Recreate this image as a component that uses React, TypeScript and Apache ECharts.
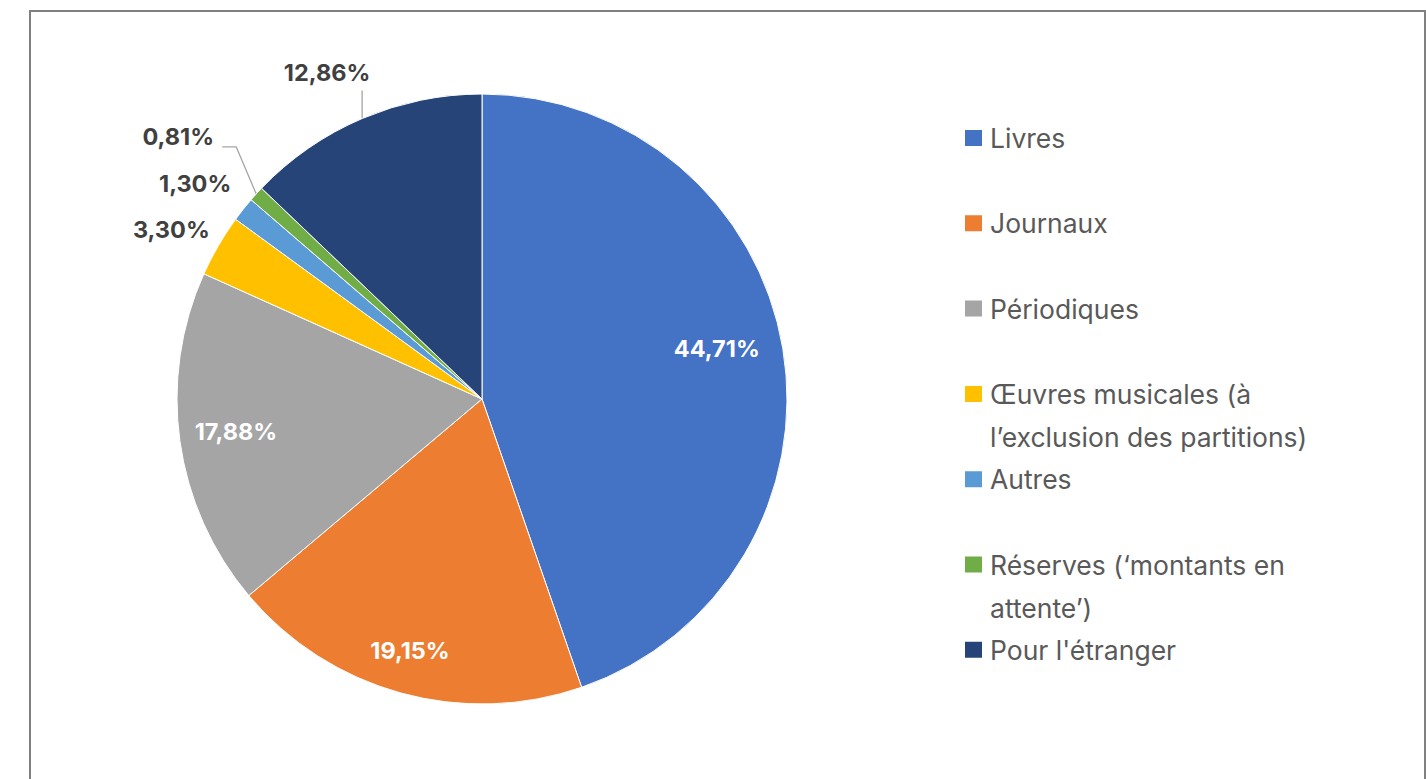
import React, { useEffect, useRef } from "react";
import * as echarts from "echarts";

const categories = [
  "Livres",
  "Journaux",
  "Périodiques",
  "Œuvres musicales (à l’exclusion des partitions)",
  "Autres",
  "Réserves (‘montants en attente’)",
  "Pour l'étranger",
];
const legendLines: string[][] = [
  ["Livres"],
  ["Journaux"],
  ["Périodiques"],
  ["Œuvres musicales (à", "l’exclusion des partitions)"],
  ["Autres"],
  ["Réserves (‘montants en", "attente’)"],
  ["Pour l'étranger"],
];
const values = [44.71, 19.15, 17.88, 3.3, 1.3, 0.81, 12.86];
const colors = ["#4472C4", "#ED7D31", "#A5A5A5", "#FFC000", "#5B9BD5", "#70AD47", "#264478"];
const insideLabel = [true, true, true, false, false, false, false];

// label centre offsets relative to the slice's outer-edge midpoint
const labelOffsets: number[][] = [
  [-66, 0],
  [9, -43],
  [56, -10],
  [-47, -16],
  [-48, -26],
  [-78, -57],
  [-35, -46],
];
const leaderLines: (number[][] | null)[] = [
  null,
  null,
  null,
  null,
  null,
  [[0, 0], [-20, -47], [-34, -47]],
  [[0, 0], [0, -28]],
];

const fmt = (v: number) => v.toFixed(2).replace(".", ",") + "%";

export default function App() {
  const ref = useRef<HTMLDivElement>(null);
  useEffect(() => {
    if (!ref.current) return;
    const chart = echarts.init(ref.current, undefined, { renderer: "svg" });
    chart.setOption({
      animation: false,
      backgroundColor: "#ffffff",
      graphic: [
        {
          type: "rect",
          silent: true,
          z: -10,
          shape: { x: 30, y: 11, width: 1395, height: 800 },
          style: { fill: "none", stroke: "#808080", lineWidth: 2 },
        },
      ],
      legend: {
        orient: "vertical",
        left: 963,
        top: 73.5,
        padding: 0,
        itemWidth: 19,
        itemHeight: 18,
        itemGap: -43.7,
        icon: "rect",
        selectedMode: false,
        data: categories,
        formatter: (name: string) => {
          const l = legendLines[categories.indexOf(name)] || [name];
          return [" ", l[0], l[1] ?? " "].join("\n");
        },
        textStyle: {
          fontFamily: "Inter, sans-serif",
          fontSize: 26.5,
          color: "#595959",
          lineHeight: 43,
          padding: [0, 0, 0, 2],
        },
      },
      series: [
        {
          type: "pie",
          radius: 305,
          center: [482, 399],
          startAngle: 90,
          clockwise: true,
          avoidLabelOverlap: false,
          silent: true,
          itemStyle: { borderColor: "#ffffff", borderWidth: 1 },
          label: {
            show: true,
            position: "outside",
            fontFamily: "Inter, sans-serif",
            fontWeight: "bold",
            fontSize: 23.5,
            formatter: (p: any) => fmt(p.value),
          },
          labelLine: {
            show: true,
            length: 10,
            length2: 10,
            lineStyle: { color: "#a6a6a6", width: 1.3 },
          },
          labelLayout: (p: any) => {
            const i = p.dataIndex;
            const pts = p.labelLinePoints;
            if (!pts) return {};
            const ex = pts[0][0];
            const ey = pts[0][1];
            const off = labelOffsets[i];
            const line = leaderLines[i];
            return {
              x: ex + off[0],
              y: ey + off[1],
              align: "center",
              verticalAlign: "middle",
              labelLinePoints: line
                ? line.map((q) => [ex + q[0], ey + q[1]])
                : [
                    [ex, ey],
                    [ex, ey],
                  ],
            };
          },
          data: categories.map((name, i) => ({
            name,
            value: values[i],
            itemStyle: { color: colors[i] },
            label: { color: insideLabel[i] ? "#ffffff" : "#404040" },
          })),
        },
      ],
    });
    return () => chart.dispose();
  }, []);
  return (
    <div
      ref={ref}
      style={{ position: "fixed", left: 0, top: 0, width: 1426, height: 779 }}
    />
  );
}
